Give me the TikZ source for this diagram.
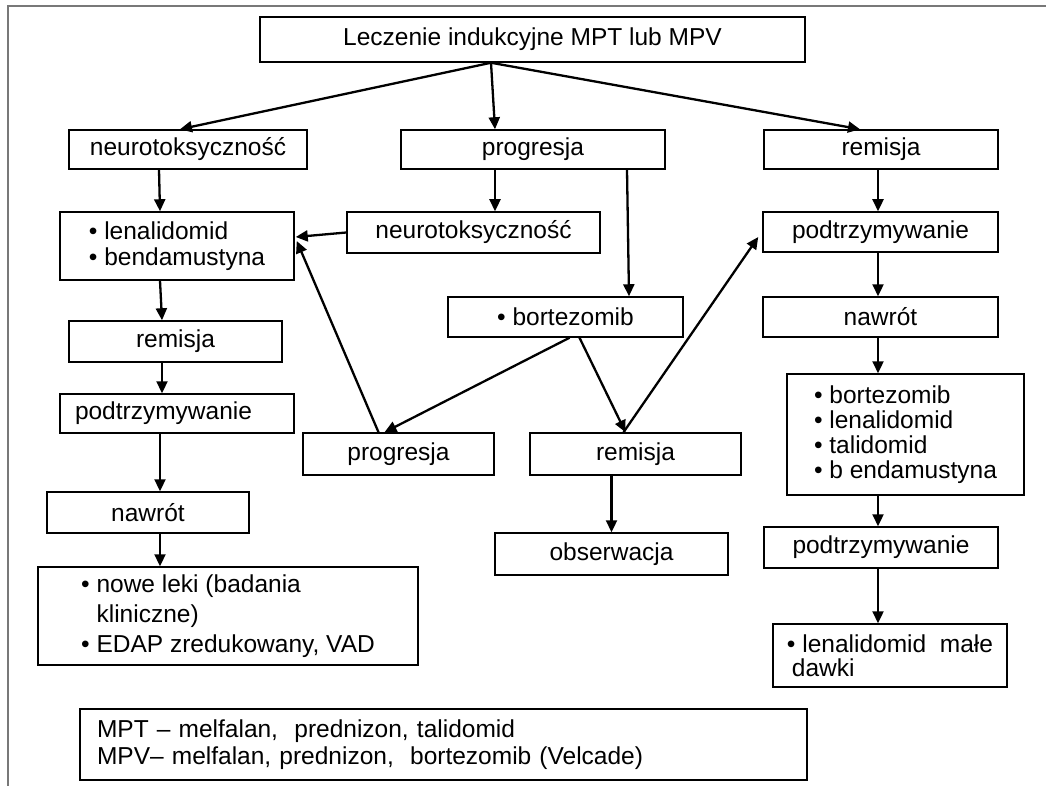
\documentclass[tikz,border=0pt]{standalone}
\usepackage{fontspec}
\setmainfont{Liberation Sans}
\usetikzlibrary{arrows.meta,calc}
\definecolor{framegray}{RGB}{120,120,120}
\newcommand{\myfs}[1]{\fontsize{24.5}{#1}\selectfont}
\begin{document}
\begin{tikzpicture}[x=1pt,y=-1pt,
  box/.style={draw, line width=1.5pt, inner sep=0pt, font=\myfs{26}, align=center},
  lbox/.style={box, align=left},
  arr/.style={line width=2.3pt, -{Triangle[length=12pt,width=11pt]}}]
\useasboundingbox (0,0) rectangle (1046,786);
\fill[white] (0,0) rectangle (1046,786);
\draw[line width=1.5pt, framegray] (1046,6) -- (8,6) -- (8,786);

% nodes
\node[box, minimum width=545pt, minimum height=45pt] (top) at (532.5,39.5) {Leczenie indukcyjne MPT lub MPV};
\node[box, minimum width=238pt, minimum height=39pt] (neuL) at (188,149.5) {neurotoksyczność};
\node[box, minimum width=264pt, minimum height=39pt] (prog) at (533,149.5) {progresja};
\node[box, minimum width=234pt, minimum height=39pt] (remR) at (881,149.5) {remisja};
\node[lbox, font=\myfs{26}, minimum width=234pt, minimum height=68pt] (lenL) at (177,246) {• lenalidomid\\• bendamustyna};
\node[box, minimum width=253pt, minimum height=41pt] (neuM) at (473.5,232.5) {neurotoksyczność};
\node[box, minimum width=235pt, minimum height=40pt] (podR) at (880.5,232) {podtrzymywanie};
\node[box, minimum width=235pt, minimum height=40pt] (bort) at (565.5,317) {• bortezomib};
\node[box, minimum width=235pt, minimum height=40pt] (nawR) at (880.5,317) {nawrót};
\node[box, minimum width=213pt, minimum height=41pt] (remL) at (175.5,341.5) {remisja};
\node[lbox, font=\myfs{25}, minimum width=237pt, minimum height=121pt] (listR) at (905.5,434.5) {• bortezomib\\• lenalidomid\\• talidomid\\• b endamustyna};
\node[box, align=left, text width=204pt, inner xsep=15pt, minimum height=39pt] (podL) at (177,413.5) {podtrzymywanie};
\node[box, minimum width=191pt, minimum height=42pt] (progB) at (398.5,454) {progresja};
\node[box, minimum width=211pt, minimum height=42pt] (remM) at (635.5,454) {remisja};
\node[box, minimum width=202pt, minimum height=41pt] (nawL) at (148,512.5) {nawrót};
\node[box, minimum width=234pt, minimum height=41pt] (podR2) at (881,547.5) {podtrzymywanie};
\node[box, minimum width=233pt, minimum height=42pt] (obs) at (611.5,554) {obserwacja};
\node[lbox, font=\myfs{30}, minimum width=380pt, minimum height=98pt] (bigL) at (228,616) {• nowe leki (badania\\\phantom{• }kliniczne)\\• EDAP zredukowany, VAD};
\node[lbox, font=\myfs{23.5}, minimum width=234pt, minimum height=63pt] (lenS) at (890,655.5) {• lenalidomid\ \ małe\\\hspace*{5pt}dawki};
\node[box, align=left, font=\myfs{27}, text width=693pt, inner xsep=17pt, minimum height=71pt] (leg) at (443.5,744.5) {MPT – melfalan,\ \ prednizon, talidomid\\MPV– melfalan, prednizon,\ \ bortezomib (Velcade)};

% connectors
\draw[arr] ($(top.south)+(-41.5,0)$) -- ($(neuL.north)+(-8,0)$);
\draw[arr] ($(top.south)+(-41.5,0)$) -- ($(prog.north)+(-38,0)$);
\draw[arr] ($(top.south)+(-41.5,0)$) -- ($(remR.north)+(-21,0)$);
\draw[arr] ($(neuL.south)+(-29,0)$) -- ($(lenL.north)+(-17,0)$);
\draw[arr] ($(prog.south)+(-38,0)$) -- ($(neuM.north)+(21.5,0)$);
\draw[arr] ($(prog.south)+(94,0)$) -- ($(bort.north)+(63.5,0)$);
\draw[arr] ($(remR.south)+(-3,0)$) -- ($(podR.north)+(-2.5,0)$);
\draw[arr] (neuM.west) -- ($(lenL.east)+(1,-9)$);
\draw[arr] ($(progB.north)+(-20,0)$) -- ($(lenL.east)+(2,-5)$);
\draw[arr] ($(bort.south)+(4,0)$) -- ($(progB.north)+(-14,0)$);
\draw[arr] ($(bort.south)+(14,0)$) -- ($(remM.north)+(-10,0)$);
\draw[arr] ($(remM.north)+(-12,0)$) -- ($(podR.west)+(-4,5)$);
\draw[arr] ($(remM.south)+(-24,0)$) -- (obs.north);
\draw[arr] ($(lenL.south)+(-17,0)$) -- ($(remL.north)+(-13.5,0)$);
\draw[arr] ($(remL.south)+(-13.5,0)$) -- ($(podL.north)+(-15,0)$);
\draw[arr] ($(podL.south)+(-17,0)$) -- ($(nawL.north)+(12,0)$);
\draw[arr] ($(nawL.south)+(12,0)$) -- ($(bigL.north)+(-68,0)$);
\draw[arr] ($(podR.south)+(-2.5,0)$) -- ($(nawR.north)+(-2.5,0)$);
\draw[arr] ($(nawR.south)+(-2.5,0)$) -- ($(listR.north)+(-27.5,0)$);
\draw[arr] ($(listR.south)+(-27.5,0)$) -- ($(podR2.north)+(-3,0)$);
\draw[arr] ($(podR2.south)+(-3,0)$) -- ($(lenS.north)+(-12,0)$);
\end{tikzpicture}
\end{document}
